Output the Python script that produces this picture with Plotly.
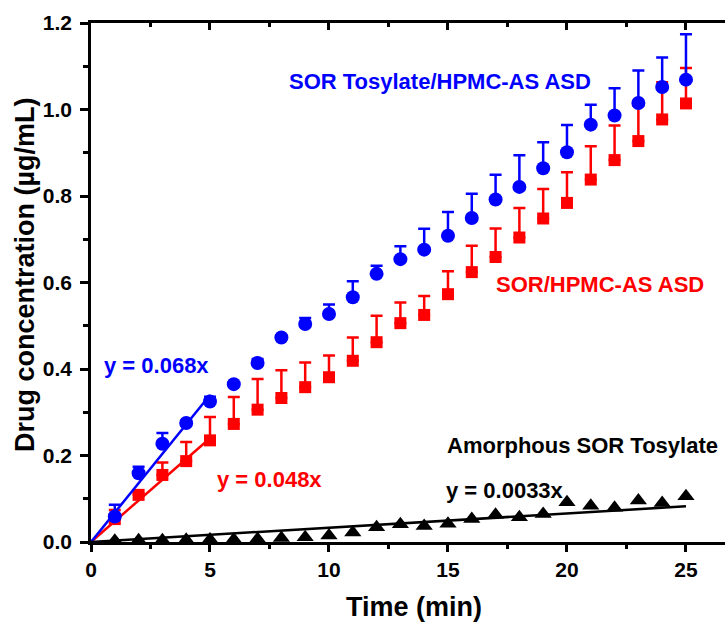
import plotly.graph_objects as go

# ---- data ----
time_min = list(range(1, 26))

tosylate_asd = [0.059, 0.159, 0.227, 0.275, 0.325, 0.365, 0.414, 0.473, 0.504, 0.527,
                0.566, 0.620, 0.654, 0.676, 0.708, 0.749, 0.792, 0.821, 0.864, 0.901,
                0.965, 0.986, 1.015, 1.052, 1.069]
tosylate_asd_err = [0.027, 0.015, 0.025, 0.005, 0.011, 0.004, 0.009, 0.005, 0.014, 0.022,
                    0.037, 0.019, 0.030, 0.048, 0.055, 0.056, 0.057, 0.073, 0.060, 0.063,
                    0.046, 0.063, 0.075, 0.068, 0.105]

sor_asd = [0.053, 0.109, 0.155, 0.187, 0.235, 0.273, 0.306, 0.333, 0.358, 0.381,
           0.419, 0.462, 0.506, 0.525, 0.573, 0.624, 0.659, 0.704, 0.748, 0.784,
           0.838, 0.883, 0.927, 0.977, 1.014]
sor_asd_err = [0.021, 0.004, 0.029, 0.044, 0.054, 0.062, 0.071, 0.064, 0.057, 0.050,
               0.054, 0.061, 0.048, 0.044, 0.053, 0.061, 0.066, 0.068, 0.068, 0.071,
               0.077, 0.080, 0.082, 0.086, 0.082]

amorphous = [0.003, 0.004, 0.004, 0.005, 0.006, 0.006, 0.007, 0.009, 0.011, 0.015,
             0.022, 0.034, 0.041, 0.037, 0.042, 0.053, 0.063, 0.057, 0.065, 0.092,
             0.084, 0.079, 0.096, 0.090, 0.106]

# linear fits (slope, fitted time span)
fit_slopes = {"tosylate": 0.068, "sor": 0.048, "amorphous": 0.0033}
fit_end = {"tosylate": 5, "sor": 5, "amorphous": 25}

x_ticks = [0, 5, 10, 15, 20, 25]
y_ticks = [0.0, 0.2, 0.4, 0.6, 0.8, 1.0, 1.2]

BLUE = "#0000FF"
RED = "#FF0000"
BLACK = "#000000"
FONT = "Liberation Sans, Arial, sans-serif"

fig = go.Figure()

def fit_line(key, color):
    xe = fit_end[key]
    fig.add_trace(go.Scatter(x=[0, xe], y=[0, fit_slopes[key] * xe], mode="lines",
                             line=dict(color=color, width=2.5), showlegend=False,
                             hoverinfo="skip"))

# red series
fig.add_trace(go.Scatter(
    x=time_min, y=sor_asd, mode="markers",
    marker=dict(symbol="square", size=12, color=RED),
    error_y=dict(type="data", symmetric=False, array=sor_asd_err,
                 arrayminus=[0] * len(sor_asd_err), color=RED, thickness=2.5, width=6),
    showlegend=False))
fit_line("sor", RED)

# blue series
fig.add_trace(go.Scatter(
    x=time_min, y=tosylate_asd, mode="markers",
    marker=dict(symbol="circle", size=14, color=BLUE),
    error_y=dict(type="data", symmetric=False, array=tosylate_asd_err,
                 arrayminus=[0] * len(tosylate_asd_err), color=BLUE, thickness=2.5, width=6),
    showlegend=False))
fit_line("tosylate", BLUE)

# black series
fig.add_trace(go.Scatter(
    x=time_min, y=amorphous, mode="markers",
    marker=dict(symbol="triangle-up", size=15, color=BLACK),
    showlegend=False))
fit_line("amorphous", BLACK)

# invisible trace for the top mirror axis
fig.add_trace(go.Scatter(x=[0], y=[0], xaxis="x2", mode="markers",
                         marker=dict(opacity=0), showlegend=False, hoverinfo="skip"))

x_max = 26.64

def ann(text, x, y, color):
    fig.add_annotation(x=x, y=y, text=text, showarrow=False,
                       font=dict(family=FONT, size=22, color=color, weight="bold"),
                       xanchor="center", yanchor="middle")

ann("SOR Tosylate/HPMC-AS ASD", 14.66, 1.065, BLUE)
ann("SOR/HPMC-AS ASD", 21.4, 0.595, RED)
ann("y = 0.068x", 2.77, 0.407, BLUE)
ann("y = 0.048x", 7.48, 0.1435, RED)
ann("Amorphous SOR Tosylate", 20.67, 0.222, BLACK)
ann("y = 0.0033x", 17.4, 0.120, BLACK)

# axis titles
fig.add_annotation(xref="paper", yref="paper", x=-0.104, y=0.5145, textangle=-90,
                   text="Drug concentration (µg/mL)", showarrow=False,
                   xanchor="center", yanchor="middle",
                   font=dict(family=FONT, size=27, color=BLACK, weight="bold"))
fig.add_annotation(xref="paper", yref="paper", x=0.509, y=-0.125,
                   text="Time (min)", showarrow=False,
                   xanchor="center", yanchor="middle",
                   font=dict(family=FONT, size=27, color=BLACK, weight="bold"))

tickfont = dict(family=FONT, size=21, color=BLACK, weight="bold")

fig.update_layout(
    width=725, height=624,
    margin=dict(l=91, r=0, t=23, b=82),
    plot_bgcolor="white", paper_bgcolor="white",
    font=dict(family=FONT, color=BLACK),
    xaxis=dict(range=[0, x_max], tickvals=x_ticks, ticktext=[str(v) for v in x_ticks],
               showgrid=False, zeroline=False, showline=True, linecolor=BLACK, linewidth=2.5,
               ticks="outside", ticklen=7, tickwidth=2.5, tickcolor=BLACK,
               minor=dict(dtick=2.5, tick0=0, ticks="outside", ticklen=4, tickwidth=2.5,
                          tickcolor=BLACK, showgrid=False),
               tickfont=tickfont, automargin=False),
    xaxis2=dict(range=[0, x_max], overlaying="x", side="top", showgrid=False, zeroline=False,
                showline=True, linecolor=BLACK, linewidth=2.5, showticklabels=False,
                tickvals=x_ticks, ticks="inside", ticklen=7, tickwidth=2.5, tickcolor=BLACK,
                minor=dict(dtick=2.5, tick0=0, ticks="inside", ticklen=4, tickwidth=2.5,
                           tickcolor=BLACK, showgrid=False), automargin=False),
    yaxis=dict(range=[0, 1.2], tickvals=y_ticks, ticktext=[f"{v:.1f}" for v in y_ticks],
               showgrid=False, zeroline=False, showline=True, linecolor=BLACK, linewidth=2.5,
               ticks="outside", ticklen=8, tickwidth=2.5, tickcolor=BLACK,
               minor=dict(dtick=0.1, tick0=0, ticks="outside", ticklen=5, tickwidth=2.5,
                          tickcolor=BLACK, showgrid=False),
               tickfont=tickfont, ticklabelstandoff=4, automargin=False),
)

fig.write_html("out.html",
               config={"displayModeBar": False},
               post_script="document.body.style.margin='0px';"
                           "document.body.style.overflow='hidden';")
